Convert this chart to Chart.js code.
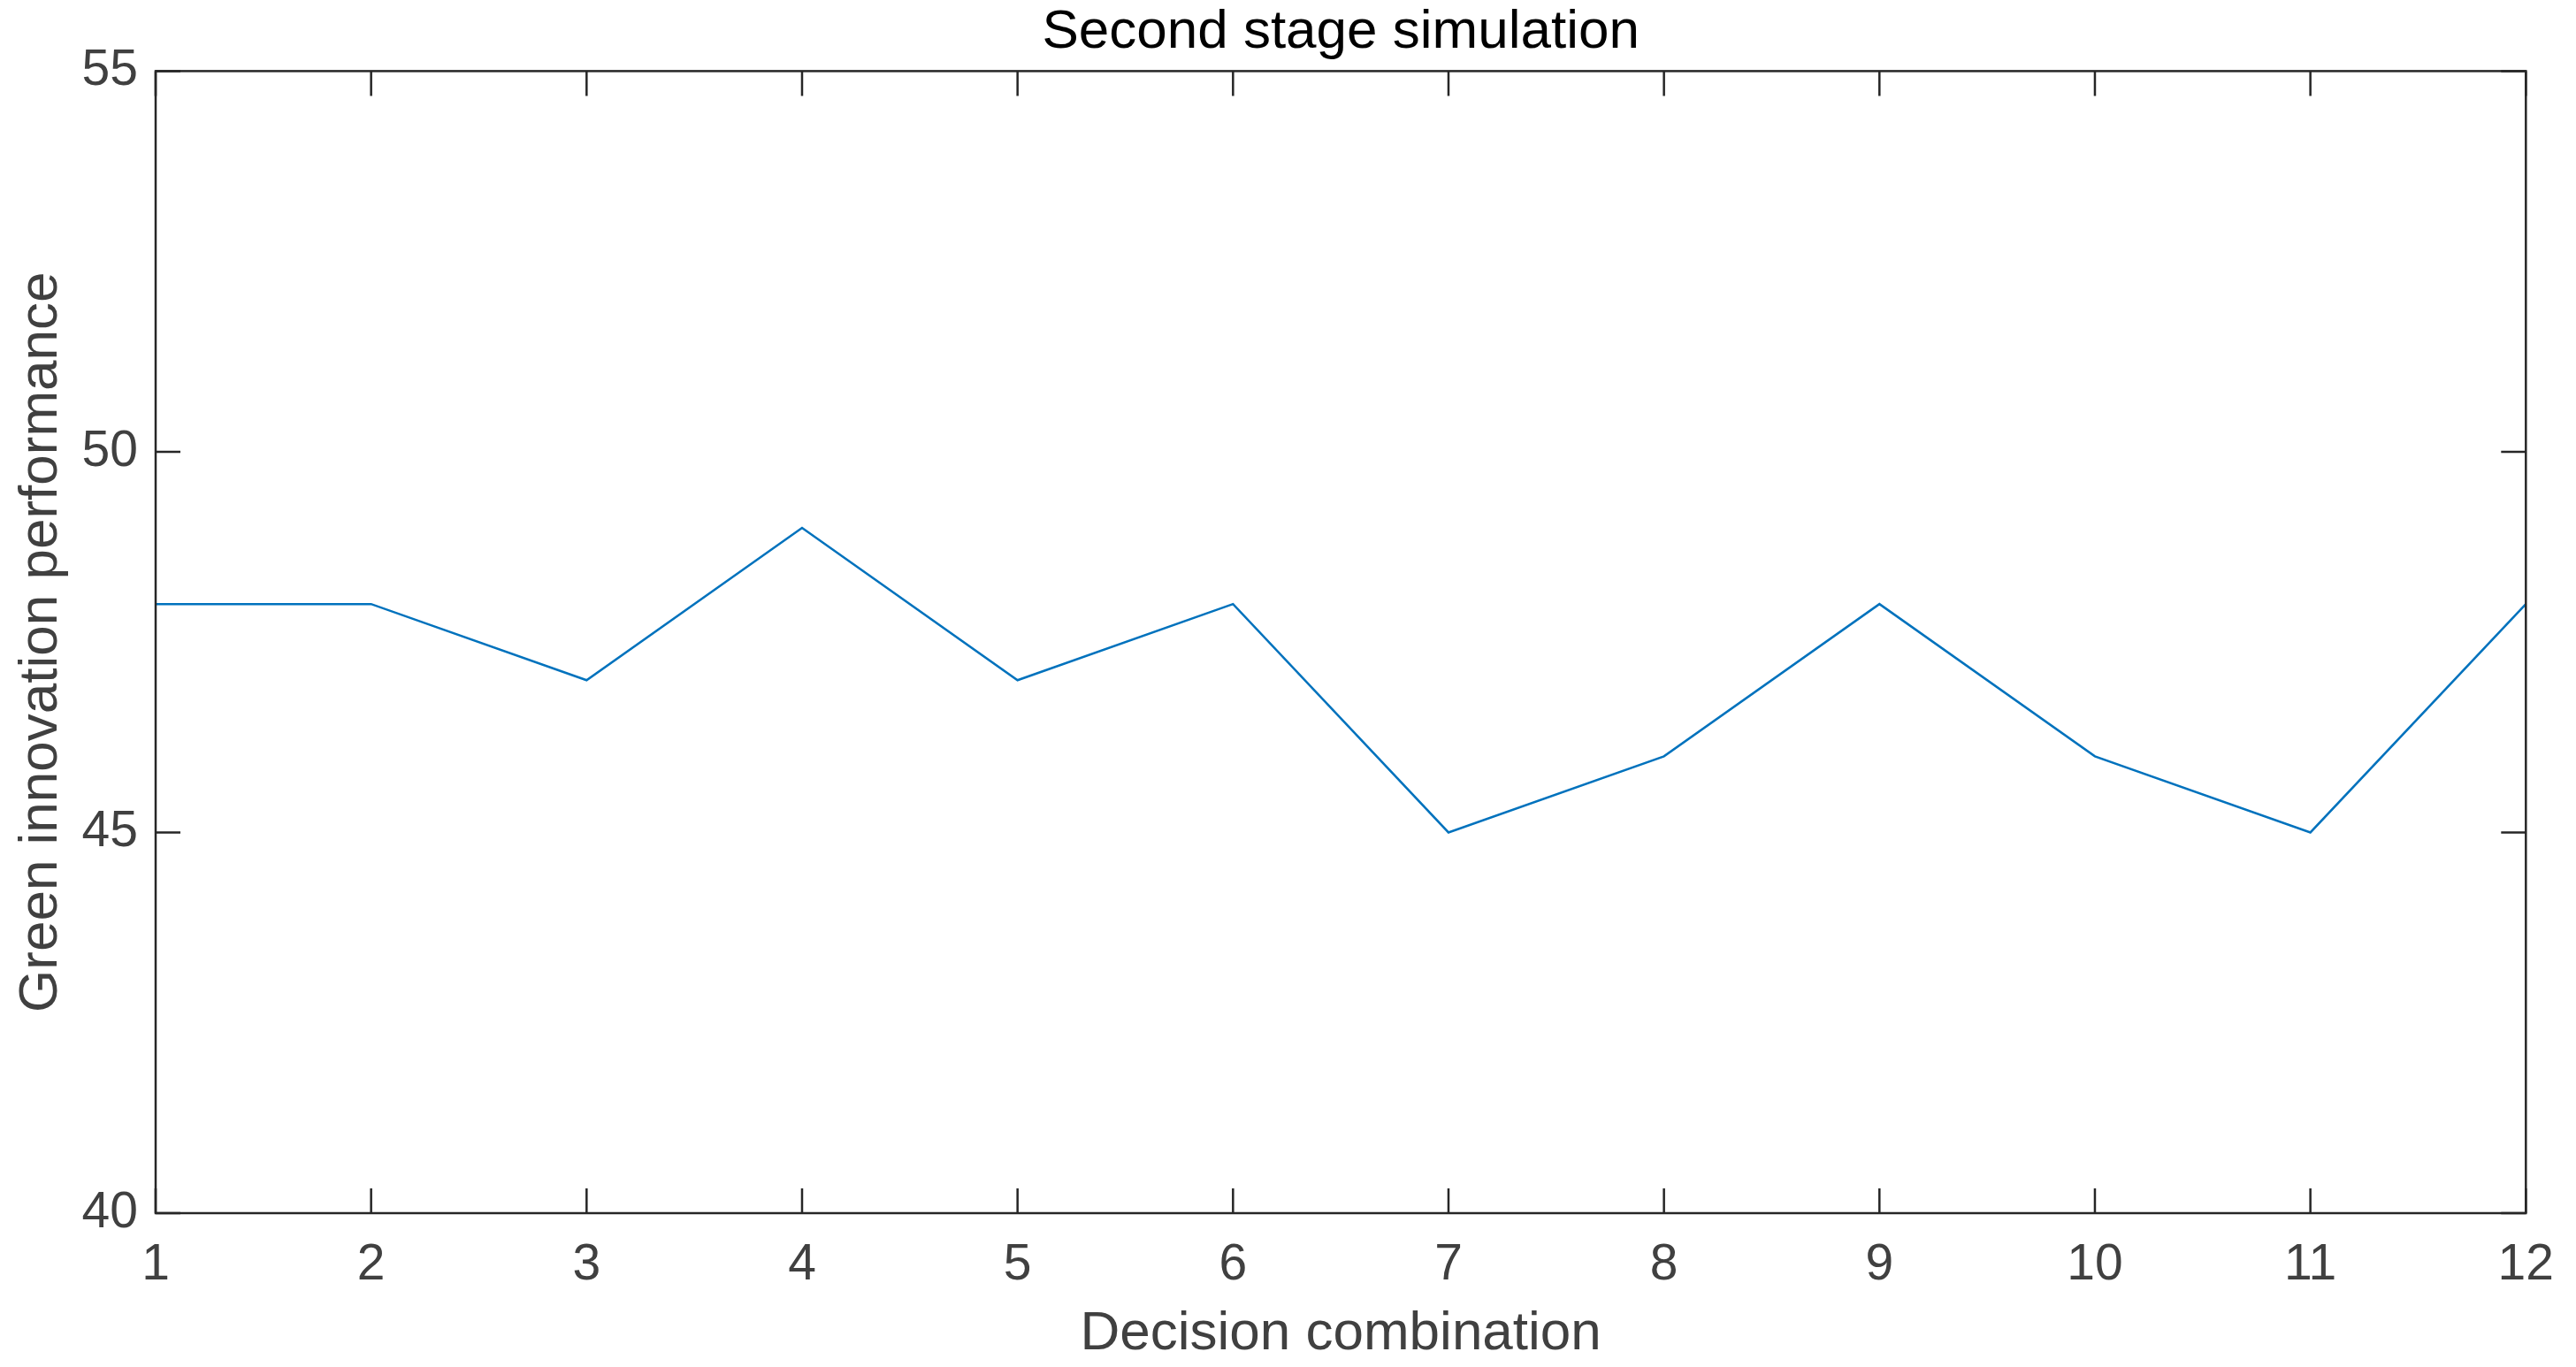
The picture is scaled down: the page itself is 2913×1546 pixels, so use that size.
<!DOCTYPE html>
<html>
<head>
<meta charset="utf-8">
<script src="https://cdn.jsdelivr.net/npm/chart.js@4.4.1/dist/chart.umd.min.js"></script>
<style>
html, body { margin: 0; padding: 0; background: #fff; }
#wrap { width: 2913px; height: 1546px; }
</style>
</head>
<body>
<div id="wrap"><canvas id="chart"></canvas></div>
<script>
// data
let combos = [1, 2, 3, 4, 5, 6, 7, 8, 9, 10, 11, 12]
let performance = [48, 48, 47, 49, 47, 48, 45, 46, 48, 46, 45, 48]
let yTicks = [40, 45, 50, 55]

let points = combos.map((c, i) => ({ x: c, y: performance[i] }))
let fontFam = '"Liberation Sans", Arial, Helvetica, sans-serif'

// matlab style box with inward ticks on all four sides
const frame = {
    id: 'frame',
    afterDatasetsDraw(chart) {
        const { ctx, chartArea: a, scales: { x, y } } = chart
        const len = 28
        ctx.save()
        ctx.strokeStyle = '#262626'
        ctx.lineWidth = 2.5
        ctx.strokeRect(a.left, a.top, a.right - a.left, a.bottom - a.top)
        ctx.beginPath()
        combos.forEach(v => {
            let px = x.getPixelForValue(v)
            ctx.moveTo(px, a.bottom); ctx.lineTo(px, a.bottom - len)
            ctx.moveTo(px, a.top); ctx.lineTo(px, a.top + len)
        })
        yTicks.forEach(v => {
            let py = y.getPixelForValue(v)
            ctx.moveTo(a.left, py); ctx.lineTo(a.left + len, py)
            ctx.moveTo(a.right, py); ctx.lineTo(a.right - len, py)
        })
        ctx.stroke()
        ctx.restore()
    }
}

let ctx = document.getElementById('chart')

new Chart(ctx, {
    type: 'line',
    data: {
        datasets: [{
            data: points,
            borderColor: '#0072BD',
            borderWidth: 2.5,
            pointRadius: 0,
            tension: 0,
            fill: false
        }]
    },
    options: {
        responsive: true,
        maintainAspectRatio: false,
        animation: false,
        devicePixelRatio: 1,
        layout: { padding: { left: 0, right: 51, top: 0, bottom: 0 } },
        plugins: {
            legend: { display: false },
            tooltip: { enabled: false },
            title: {
                display: true,
                fullSize: false,
                text: 'Second stage simulation',
                color: '#000',
                font: { family: fontFam, size: 62, weight: 'normal' },
                padding: { top: 0, bottom: 6 }
            }
        },
        scales: {
            x: {
                type: 'linear',
                min: 1,
                max: 12,
                afterFit: s => { s.height = 174 },
                grid: { display: false, drawTicks: false },
                border: { display: false },
                ticks: {
                    stepSize: 1,
                    color: '#404040',
                    padding: 25,
                    maxRotation: 0,
                    font: { family: fontFam, size: 57 }
                },
                title: {
                    display: true,
                    text: 'Decision combination',
                    color: '#404040',
                    padding: 0,
                    font: { family: fontFam, size: 62 }
                }
            },
            y: {
                min: 40,
                max: 55,
                afterFit: s => { s.width = 176 },
                afterBuildTicks: s => { s.ticks = yTicks.map(v => ({ value: v })) },
                grid: { display: false, drawTicks: false },
                border: { display: false },
                ticks: {
                    color: '#404040',
                    padding: 20,
                    font: { family: fontFam, size: 57 }
                },
                title: {
                    display: true,
                    text: 'Green innovation performance',
                    color: '#404040',
                    padding: { top: 10, bottom: 0 },
                    font: { family: fontFam, size: 62 }
                }
            }
        }
    },
    plugins: [frame]
})
</script>
</body>
</html>
